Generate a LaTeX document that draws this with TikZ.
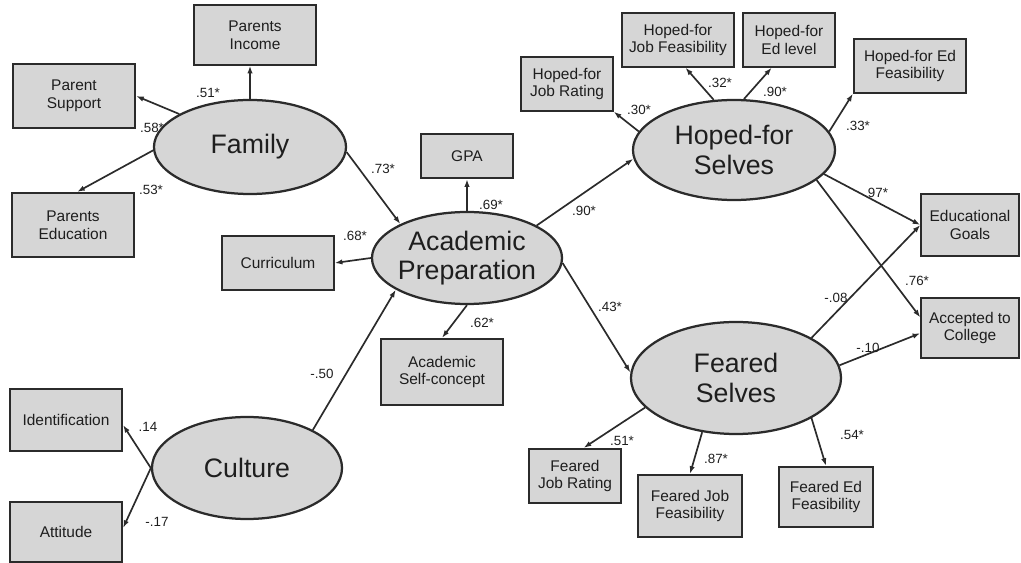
\documentclass[tikz,border=0pt]{standalone}
\usepackage{fontspec}
\setmainfont{Liberation Sans}
\usepackage{xcolor}
\usepackage{tikz}
\usetikzlibrary{arrows.meta,shapes.geometric}
\definecolor{border}{HTML}{2B2B2B}
\definecolor{ink}{HTML}{1E1E1E}
\definecolor{shade}{HTML}{D6D6D6}
\tikzset{
  obs/.style={draw=border, fill=shade, line width=1.5pt, text=ink, align=center, inner sep=1pt, font=\fontsize{11}{12.5}\selectfont},
  lat/.style={ellipse, draw=border, fill=shade, line width=1.6pt, text=ink, align=center, inner xsep=-6pt, inner ysep=0pt, font=\fontsize{19}{21}\selectfont},
  arr/.style={-{Latex[length=5.5pt,width=3.8pt]}, line width=1.2pt, draw=border},
  lab/.style={text=ink, font=\fontsize{9.5}{11}\selectfont, inner sep=0pt}
}

\begin{document}
\begin{tikzpicture}[x=0.025cm, y=-0.025cm]
  \useasboundingbox (0,0) rectangle (1021,563);

  % latent variables
  \node[lat, minimum width=4.8cm, minimum height=2.35cm] (fam) at (250,147) {Family};
  \node[lat, minimum width=4.75cm, minimum height=2.3cm] (acad) at (467,258) {Academic\\Preparation};
  \node[lat, minimum width=4.75cm, minimum height=2.55cm] (cult) at (247,468) {Culture};
  \node[lat, minimum width=5.05cm, minimum height=2.5cm] (hope) at (734,150) {Hoped-for\\Selves};
  \node[lat, minimum width=5.25cm, minimum height=2.8cm] (fear) at (736,378) {Feared\\Selves};

  % indicators
  \node[obs, minimum width=3.03cm, minimum height=1.48cm] (inc) at (255,35) {Parents\\Income};
  \node[obs, minimum width=3.05cm, minimum height=1.58cm] (sup) at (74,96) {Parent\\Support};
  \node[obs, minimum width=3.05cm, minimum height=1.6cm] (edu) at (73,225) {Parents\\Education};
  \node[obs, minimum width=2.28cm, minimum height=1.1cm] (gpa) at (467,156) {GPA};
  \node[obs, minimum width=2.78cm, minimum height=1.33cm] (cur) at (278,263) {Curriculum};
  \node[obs, minimum width=3.03cm, minimum height=1.65cm] (sc) at (442,372) {Academic\\Self-concept};
  \node[obs, minimum width=2.8cm, minimum height=1.53cm] (ident) at (66,420) {Identification};
  \node[obs, minimum width=2.8cm, minimum height=1.5cm] (att) at (66,532) {Attitude};
  \node[obs, minimum width=2.28cm, minimum height=1.33cm] (hjr) at (567,84) {Hoped-for\\Job Rating};
  \node[obs, minimum width=2.8cm, minimum height=1.33cm] (hjf) at (678,40) {Hoped-for\\Job Feasibility};
  \node[obs, minimum width=2.3cm, minimum height=1.33cm] (hel) at (789,40) {Hoped-for\\Ed level};
  \node[obs, minimum width=2.8cm, minimum height=1.33cm] (hef) at (910,66) {Hoped-for Ed\\Feasibility};
  \node[obs, minimum width=2.43cm, minimum height=1.55cm] (goal) at (970,225) {Educational\\Goals};
  \node[obs, minimum width=2.43cm, minimum height=1.48cm] (acc) at (970,328) {Accepted to\\College};
  \node[obs, minimum width=2.3cm, minimum height=1.35cm] (fjr) at (575,476) {Feared\\Job Rating};
  \node[obs, minimum width=2.58cm, minimum height=1.55cm] (fjf) at (690,506) {Feared Job\\Feasibility};
  \node[obs, minimum width=2.33cm, minimum height=1.5cm] (fef) at (826,497) {Feared Ed\\Feasibility};

  % paths
  \draw[arr] (fam.north) -- (fam.north |- inc.south);
  \draw[arr] (fam.155) -- (sup.east);
  \draw[arr] (fam.182) -- (edu.83);
  \draw[arr] (fam.-3) -- (acad.153);
  \draw[arr] (acad.north) -- (gpa.south);
  \draw[arr] (acad.west) -- (cur.east);
  \draw[arr] (acad.south) -- (sc.north);
  \draw[arr] (cult.30) -- (acad.204);
  \draw[arr] (cult.west) -- (ident.-5);
  \draw[arr] (cult.west) -- (att.4);
  \draw[arr] (acad.25) -- (hope.185);
  \draw[arr] (acad.-3) -- (fear.177);
  \draw[arr] (hope.169) -- (hjr.south east);
  \draw[arr] (hope.112) -- (hjf.-75);
  \draw[arr] (hope.79) -- (hel.238);
  \draw[arr] (hope.11) -- (hef.south west);
  \draw[arr] (hope.-15) -- (goal.west);
  \draw[arr] (hope.-20) -- (acc.168);
  \draw[arr] (fear.28) -- (goal.west);
  \draw[arr] (fear.7) -- (acc.186);
  \draw[arr] (fear.198) -- (fjr.73);
  \draw[arr] (fear.238) -- (fjf.north);
  \draw[arr] (fear.-28) -- (fef.north);

  % loadings
  \node[lab] (l51) at (208,93) {.51*};
  \node[lab] (l58) at (152,128) {.58*};
  \node[lab] (l53) at (151,190) {.53*};
  \node[lab] (l73) at (383,169) {.73*};
  \node[lab] (l69) at (491,205) {.69*};
  \node[lab] (l90a) at (584,211) {.90*};
  \node[lab] (l68) at (355,236) {.68*};
  \node[lab] (l43) at (610,307) {.43*};
  \node[lab] (l62) at (482,323) {.62*};
  \node[lab] (l30) at (639,110) {.30*};
  \node[lab] (l32) at (720,83) {.32*};
  \node[lab] (l90b) at (775,92) {.90*};
  \node[lab] (l33) at (858,126) {.33*};
  \node[lab] (l97) at (878,193) {97*};
  \node[lab] (l76) at (917,281) {.76*};
  \node[lab] (l08) at (836,298) {-.08};
  \node[lab] (l10) at (868,348) {-.10};
  \node[lab] (l50) at (322,374) {-.50};
  \node[lab] (l14) at (148,427) {.14};
  \node[lab] (l17) at (157,522) {-.17};
  \node[lab] (l51f) at (622,441) {.51*};
  \node[lab] (l87) at (716,459) {.87*};
  \node[lab] (l54) at (852,435) {.54*};
\end{tikzpicture}
\end{document}
